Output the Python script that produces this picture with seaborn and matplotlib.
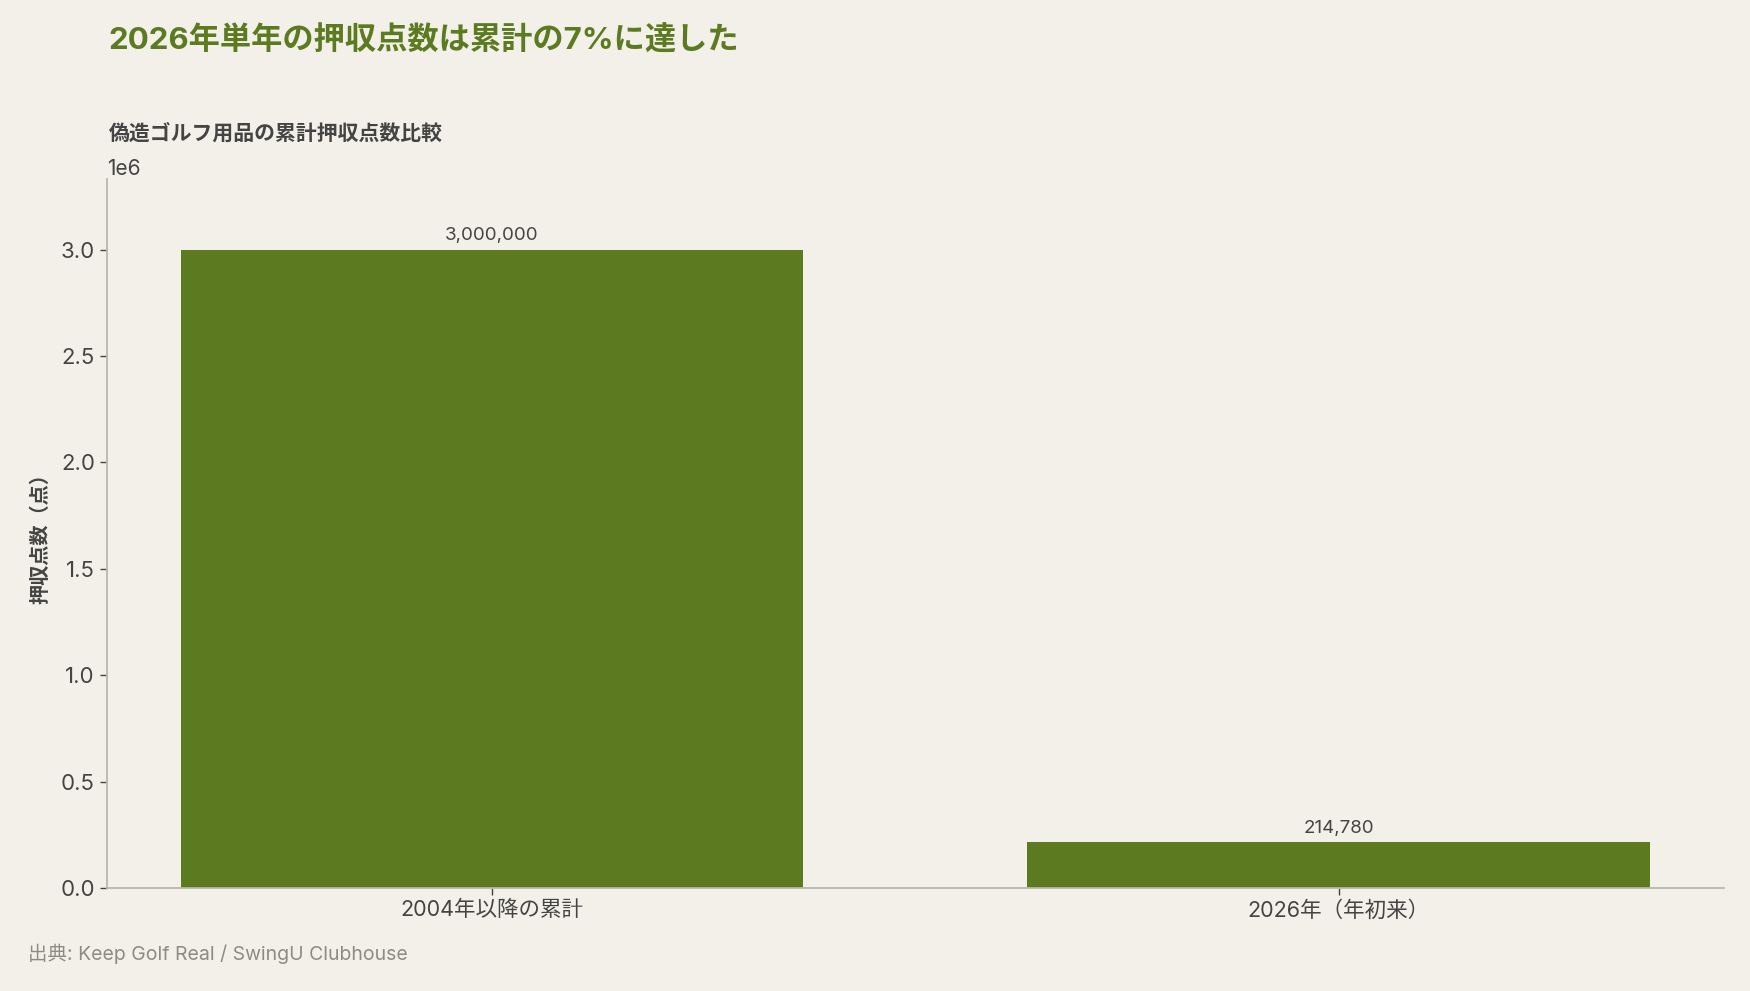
import matplotlib
matplotlib.use("Agg")
import matplotlib.pyplot as plt
import seaborn as sns
import pandas as pd

categories = ["2004年以降の累計", "2026年（年初来）"]
values = [3000000, 214780]

BG = "#f2f0e9"
GREEN = "#5c7a1f"
TEXT = "#444444"

sns.set_theme(style="white")
plt.rcParams['font.family'] = ['Inter', 'Noto Sans CJK JP', 'DejaVu Sans']
plt.rcParams['axes.unicode_minus'] = False

df = pd.DataFrame({"cat": categories, "val": values})

fig = plt.figure(figsize=(17.5, 9.91), dpi=100, facecolor=BG)
ax = fig.add_axes([0.061, 0.104, 0.924, 0.715])
ax.set_facecolor(BG)

sns.barplot(data=df, x="cat", y="val", color=GREEN, width=0.735, saturation=1,
            linewidth=0, ax=ax)
ax.set_xlim(-0.455, 1.455)
ax.set_ylim(0, 3.33e6)

for p, v in zip(ax.patches, values):
    ax.annotate(f"{v:,}", (p.get_x() + p.get_width() / 2, p.get_height()),
                xytext=(0, 4), textcoords="offset points", ha="center", va="bottom",
                fontsize=13.5, color=TEXT)

for s in ["top", "right"]:
    ax.spines[s].set_visible(False)
for s in ["left", "bottom"]:
    ax.spines[s].set_color("#b3b9a8")
    ax.spines[s].set_linewidth(1.3)

ax.tick_params(axis="y", colors=TEXT, labelsize=16, length=5, width=1, left=True)
ax.tick_params(axis="x", colors=TEXT, labelsize=15.5, length=5, width=1, bottom=True)
ax.yaxis.get_offset_text().set_fontsize(15)
ax.yaxis.get_offset_text().set_color(TEXT)
ax.set_xlabel("")
ax.set_ylabel("押収点数（点）", fontsize=14.5, fontweight="bold", color=TEXT, labelpad=7)

fig.text(0.062, 0.959, "2026年単年の押収点数は累計の7%に達した", fontsize=22.5,
         fontweight="bold", color=GREEN, va="center")
fig.text(0.062, 0.865, "偽造ゴルフ用品の累計押収点数比較", fontsize=15,
         fontweight="bold", color=TEXT, va="center")
fig.text(0.016, 0.038, "出典: Keep Golf Real / SwingU Clubhouse", fontsize=14,
         color="#8c8c84", va="center")

fig.savefig("out.png", dpi=100, facecolor=BG)
